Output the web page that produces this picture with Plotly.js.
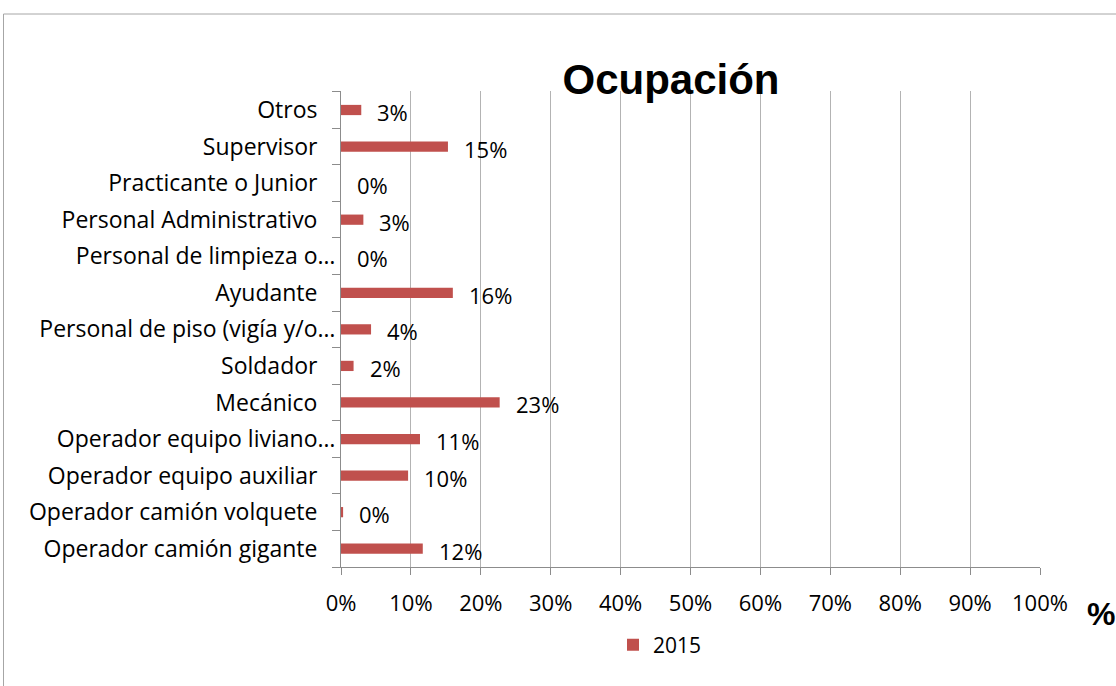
<!DOCTYPE html>
<html>
<head>
<meta charset="utf-8">
<script src="https://cdn.plot.ly/plotly-3.0.1.min.js"></script>
<style>html,body{margin:0;padding:0;background:#fff;}#chart{width:1116px;height:686px;}</style>
</head>
<body>
<div id="chart"></div>
<script>
// Categories, top to bottom as shown
const categories = [
  "Otros",
  "Supervisor",
  "Practicante o Junior",
  "Personal Administrativo",
  "Personal de limpieza o…",
  "Ayudante",
  "Personal de piso (vigía y/o…",
  "Soldador",
  "Mecánico",
  "Operador equipo liviano…",
  "Operador equipo auxiliar",
  "Operador camión volquete",
  "Operador camión gigante"
];
// Percent values for 2015
const values2015 = [2.9, 15.3, 0, 3.2, 0, 16.0, 4.3, 1.8, 22.7, 11.3, 9.6, 0.3, 11.7];
const seriesName = "2015";
const xTickVals = [0, 10, 20, 30, 40, 50, 60, 70, 80, 90, 100];
const xTickText = ["0%", "10%", "20%", "30%", "40%", "50%", "60%", "70%", "80%", "90%", "100%"];
const chartTitle = "Ocupación";
const axisUnit = "%";

const FONT = "Open Sans, sans-serif";
const BAR = "#C0504D";
const GRID = "#b3b3b3";

// tick label text: truncated labels (ending in …) sit closer to the axis
const tickText = categories.map(c => c.endsWith("…") ? c : c + "\u00a0\u00a0\u00a0");

const trace = {
  type: "bar",
  orientation: "h",
  y: categories,
  x: values2015,
  name: seriesName,
  marker: {color: BAR},
  hoverinfo: "x+y",
  showlegend: true
};

const labelAnnots = categories.map((c, i) => ({
  x: values2015[i], y: c, xref: "x", yref: "y",
  text: Math.round(values2015[i]) + "%",
  showarrow: false, xanchor: "left", yanchor: "middle",
  xshift: 14, yshift: -2,
  font: {family: FONT, size: 22, color: "#000"}
}));

const layout = {
  width: 1116, height: 686,
  margin: {l: 341, r: 76, t: 91, b: 119},
  paper_bgcolor: "#fff", plot_bgcolor: "#fff",
  font: {family: FONT, color: "#000"},
  title: {
    text: chartTitle,
    font: {family: "Liberation Sans, Arial, sans-serif", size: 42, weight: "bold", color: "#000"},
    x: 671 / 1116, xanchor: "center", xref: "container",
    y: 1 - 79 / 686, yanchor: "middle", yref: "container"
  },
  bargap: 0.72,
  xaxis: {
    range: [0, 100], tickmode: "array", tickvals: xTickVals, ticktext: xTickText,
    showgrid: true, gridcolor: GRID, gridwidth: 1,
    showline: true, linecolor: "#8c8c8c", linewidth: 1,
    ticks: "outside", ticklen: 7, tickcolor: "#8c8c8c",
    zeroline: false, ticklabelstandoff: 10,
    tickfont: {family: FONT, size: 22, color: "#000"},
    fixedrange: true
  },
  yaxis: {
    type: "category", autorange: "reversed",
    tickvals: categories, ticktext: tickText,
    showgrid: false, showline: true, linecolor: "#8c8c8c", linewidth: 1,
    ticks: "outside", tickson: "boundaries", ticklen: 8, tickcolor: "#8c8c8c",
    ticklabelstandoff: 0,
    tickfont: {family: FONT, size: 23, color: "#000"},
    fixedrange: true
  },
  legend: {
    orientation: "h", x: (613 - 341) / 699, xanchor: "left",
    y: (567 - 645) / 476, yanchor: "middle",
    font: {family: FONT, size: 21, color: "#000"},
    itemwidth: 30
  },
  shapes: [{
    type: "rect", xref: "paper", yref: "paper",
    x0: (3.5 - 341) / 699, x1: 1.2, y0: -0.4, y1: (567 - 14) / 476,
    line: {color: "#a6a6a6", width: 1}, fillcolor: "rgba(0,0,0,0)", layer: "below"
  }],
  annotations: labelAnnots.concat([{
    text: axisUnit, xref: "paper", yref: "paper",
    x: (1101 - 341) / 699, y: (567 - 614) / 476,
    xanchor: "center", yanchor: "middle", showarrow: false,
    font: {family: "Liberation Sans, Arial, sans-serif", size: 32, weight: "bold", color: "#000"}
  }])
};

Plotly.newPlot("chart", [trace], layout, {displayModeBar: false, staticPlot: true});
</script>
</body>
</html>
